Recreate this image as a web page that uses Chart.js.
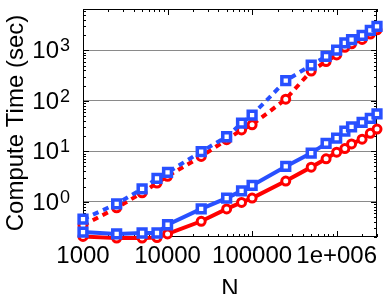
<!DOCTYPE html>
<html>
<head>
<meta charset="utf-8">
<script src="https://cdn.jsdelivr.net/npm/chart.js@4/dist/chart.umd.min.js"></script>
<style>
    html, body { margin: 0; padding: 0; background: #fff; }
    #wrap { width: 388px; height: 294px; }
</style>
</head>
<body>
<div id="wrap"><canvas id="chart" width="388" height="294"></canvas></div>
<script>
/* ================= DATA ================= */

const N = [1000, 2500, 5000, 7500, 10000, 25000, 50000, 75000, 100000,
    250000, 500000, 750000, 1000000, 1250000, 1500000, 2000000, 2500000, 3000000];

// upper (dashed) pair
const blueDashed = [0.45, 0.91, 1.8, 2.9, 3.8, 9.8, 19.4, 36, 52,
    250, 510, 760, 1010, 1400, 1630, 1990, 2500, 2980];
const redDashed = [0.34, 0.76, 1.5, 2.35, 3.2, 7.9, 17, 26.5, 33.5,
    108, 390, 600, 810, 1150, 1350, 1650, 2100, 2550];

// lower (solid) pair
const blueSolid = [0.25, 0.23, 0.24, 0.24, 0.35, 0.72, 1.18, 1.64, 2.1,
    5.0, 9.2, 14.3, 18.2, 25, 30.5, 37.5, 45, 55];
const redSolid = [0.205, 0.19, 0.19, 0.195, 0.23, 0.41, 0.72, 0.97, 1.18,
    2.57, 4.85, 7.1, 9.6, 11.3, 14, 17.4, 22.7, 27.5];

const X_TICKS = [1000, 10000, 100000, 1000000];
const Y_TICKS = [1, 10, 100, 1000];
const Y_EXP = ["0", "1", "2", "3"];

const X_MIN = 1000, X_MAX = 3000000;
const Y_MIN = 0.2, Y_MAX = 6600;

/* ================= STYLE ================= */

const RED = "#ff0000";
const BLUE = "#2850ff";
const FONT = "'Liberation Sans', Arial, sans-serif";

const pts = (ys) => N.map((n, i) => ({ x: n, y: ys[i] }));

function series(ys, color, dashed, square) {
    return {
        data: pts(ys),
        borderColor: color,
        borderWidth: 4,
        borderDash: dashed ? [6, 5] : [],
        pointStyle: square ? "rect" : "circle",
        pointRadius: square ? 5.5 : 4,
        pointBorderWidth: square ? 3.5 : 3,
        pointBorderColor: color,
        pointBackgroundColor: "#fff",
        fill: false,
        tension: 0,
        clip: false,
    };
}

/* ================= PLUGIN: frame, ticks, y labels ================= */

const frameTicks = {
    id: "frameTicks",
    beforeDatasetsDraw(chart) {
        const { ctx, chartArea: a, scales: { x, y } } = chart;
        ctx.save();
        ctx.strokeStyle = "#000";
        ctx.lineWidth = 1;

        const seg = (x1, y1, x2, y2) => {
            ctx.beginPath();
            ctx.moveTo(x1, y1);
            ctx.lineTo(x2, y2);
            ctx.stroke();
        };

        // x ticks, bottom and top
        for (let d = 1000; d <= X_MAX; d *= 10) {
            for (let k = 1; k < 10; k++) {
                const v = d * k;
                if (v > X_MAX) break;
                const px = Math.round(x.getPixelForValue(v)) + 0.5;
                const len = k === 1 ? 6 : 3;
                seg(px, a.bottom, px, a.bottom - len);
                seg(px, a.top, px, a.top + len);
            }
        }

        // y ticks, left and right
        for (let d = 0.1; d <= Y_MAX; d *= 10) {
            for (let k = 1; k < 10; k++) {
                const v = d * k;
                if (v < Y_MIN || v > Y_MAX) continue;
                const py = Math.round(y.getPixelForValue(v)) + 0.5;
                const len = k === 1 ? 6 : 3;
                seg(a.left, py, a.left + len, py);
                seg(a.right, py, a.right - len, py);
            }
        }

        ctx.strokeRect(Math.round(a.left) + 0.5, Math.round(a.top) + 0.5,
            Math.round(a.right - a.left) - 1, Math.round(a.bottom - a.top) - 1);
        ctx.restore();
    },
    afterDraw(chart) {
        const { ctx, chartArea: a, scales: { y } } = chart;
        ctx.save();
        ctx.fillStyle = "#000";
        ctx.textBaseline = "alphabetic";
        Y_TICKS.forEach((v, i) => {
            const py = y.getPixelForValue(v);
            ctx.font = "24px " + FONT;
            ctx.textAlign = "right";
            ctx.fillText("10", a.left - 24, py + 8);
            ctx.font = "18px " + FONT;
            ctx.textAlign = "left";
            ctx.fillText(Y_EXP[i], a.left - 23, py + 1);
        });
        ctx.restore();
    },
};

/* ================= CHART ================= */

new Chart(document.getElementById("chart"), {
    type: "line",
    data: {
        datasets: [
            // first dataset is drawn on top
            series(blueDashed, BLUE, true, true),
            series(blueSolid, BLUE, false, true),
            series(redDashed, RED, true, false),
            series(redSolid, RED, false, false),
        ],
    },
    options: {
        responsive: false,
        animation: false,
        layout: { padding: { top: 5, right: 11, left: 0, bottom: 0 } },
        plugins: {
            legend: { display: false },
            tooltip: { enabled: false },
        },
        scales: {
            x: {
                type: "logarithmic",
                min: X_MIN,
                max: X_MAX,
                afterBuildTicks: (s) => { s.ticks = X_TICKS.map(v => ({ value: v })); },
                afterFit: (s) => { s.height = 57; },
                grid: { display: false, drawTicks: false },
                border: { display: false },
                ticks: {
                    autoSkip: false,
                    maxRotation: 0,
                    padding: 5,
                    color: "#000",
                    font: { family: FONT, size: 24 },
                    callback: (v) => (v >= 1000000 ? "1e+006" : String(v)),
                },
                title: {
                    display: true,
                    text: "N",
                    color: "#000",
                    font: { family: FONT, size: 24, lineHeight: 1 },
                    padding: { top: 0, bottom: -7 },
                },
            },
            y: {
                type: "logarithmic",
                min: Y_MIN,
                max: Y_MAX,
                afterBuildTicks: (s) => { s.ticks = Y_TICKS.map(v => ({ value: v })); },
                afterFit: (s) => { s.width = 83; },
                grid: { color: "#8a8a8a", lineWidth: 1, drawTicks: false },
                border: { display: false },
                ticks: { display: false },
                title: {
                    display: true,
                    text: "Compute Time (sec)",
                    color: "#000",
                    font: { family: FONT, size: 24, lineHeight: 1.2 },
                    padding: { top: 2, bottom: 0 },
                },
            },
        },
    },
    plugins: [frameTicks],
});
</script>
</body>
</html>
